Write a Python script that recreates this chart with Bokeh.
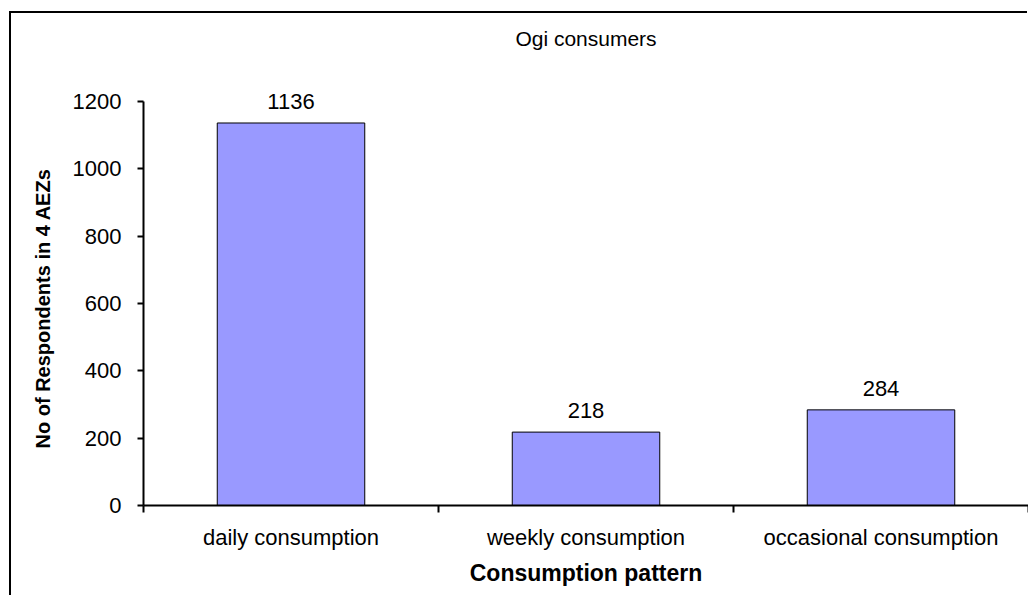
from bokeh.plotting import figure
from bokeh.models import ColumnDataSource, LabelSet, FixedTicker, Range1d, Title
from bokeh.core.properties import value
from bokeh.embed import file_html
from bokeh.resources import INLINE

categories = ["daily consumption", "weekly consumption", "occasional consumption"]
respondents = [1136, 218, 284]
y_ticks = [0, 200, 400, 600, 800, 1000, 1200]

x_pos = [i + 0.5 for i in range(len(categories))]
src = ColumnDataSource(dict(x=x_pos, top=respondents, label=[str(v) for v in respondents]))

FONT = "Liberation Sans"

p = figure(width=1028, height=595, output_backend="svg", toolbar_location=None,
           x_range=Range1d(0, len(categories)), y_range=Range1d(0, 1283),
           min_border_left=143, min_border_right=0, min_border_top=73, min_border_bottom=90,
           title="Ogi consumers")
# outer chart border (left and top edges) drawn behind a transparent canvas
p.styles = {"vertical-align": "top",
            "background": ("linear-gradient(black, black) 9px 11px / 2px 100% no-repeat, "
                           "linear-gradient(black, black) 9px 11px / 1018px 2px no-repeat, white")}
p.outline_line_color = None
p.grid.grid_line_color = None
p.background_fill_alpha = 0
p.border_fill_alpha = 0

p.vbar(x="x", top="top", width=0.5, bottom=0, source=src,
       fill_color="#9999FF", line_color="black", line_width=1)

labels = LabelSet(x="x", y="top", text="label", source=src, text_align="center",
                  text_baseline="alphabetic", y_offset=14, text_font=value(FONT),
                  text_font_size="22px", text_color="black")
p.add_layout(labels)

p.title.align = "center"
p.title.text_font = FONT
p.title.text_font_size = "21px"
p.title.text_font_style = "normal"
p.title.text_color = "black"
p.title.standoff = 47

xa = p.xaxis[0]
xa.ticker = FixedTicker(ticks=x_pos, minor_ticks=list(range(len(categories) + 1)))
xa.major_label_overrides = {x: c for x, c in zip(x_pos, categories)}
xa.major_tick_line_color = None
xa.major_tick_out = 0
xa.major_tick_in = 0
xa.minor_tick_line_color = "black"
xa.minor_tick_out = 7
xa.minor_tick_in = 0
xa.minor_tick_line_width = 2
xa.axis_line_width = 2
xa.axis_line_color = "black"
xa.major_label_standoff = 12
xa.major_label_text_font = FONT
xa.major_label_text_font_size = "22px"
xa.major_label_text_color = "black"
xa.axis_label = "Consumption pattern"
xa.axis_label_text_font = FONT
xa.axis_label_text_font_size = "23px"
xa.axis_label_text_font_style = "bold"
xa.axis_label_text_color = "black"
xa.axis_label_standoff = 7

ya = p.yaxis[0]
ya.ticker = FixedTicker(ticks=y_ticks)
ya.bounds = (y_ticks[0], y_ticks[-1])
ya.minor_tick_line_color = None
ya.major_tick_out = 6
ya.major_tick_in = 0
ya.major_tick_line_width = 2
ya.axis_line_width = 2
ya.axis_line_color = "black"
ya.major_label_standoff = 16
ya.major_label_text_font = FONT
ya.major_label_text_font_size = "22px"
ya.major_label_text_color = "black"

ytitle = Title(text="No of Respondents in 4 AEZs", align="left", offset=57,
               standoff=32, text_font=FONT, text_font_size="20px",
               text_font_style="bold", text_color="black")
p.add_layout(ytitle, "left")

open("out.html", "w").write(file_html(p, INLINE))
